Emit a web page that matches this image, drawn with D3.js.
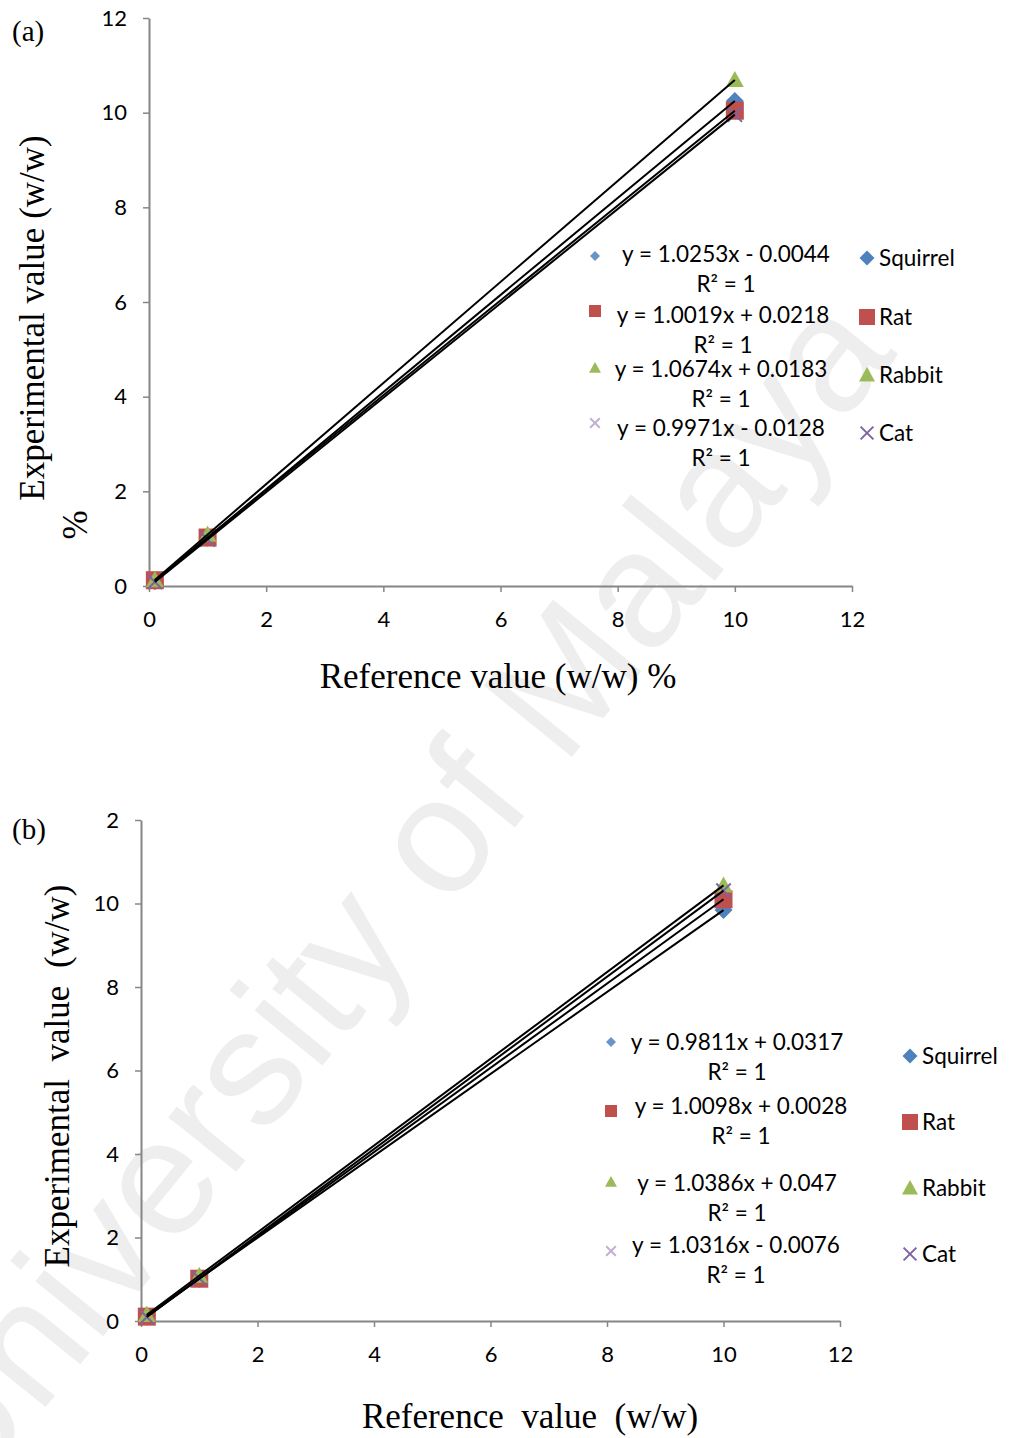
<!DOCTYPE html>
<html>
<head>
<meta charset="utf-8">
<script src="https://cdn.jsdelivr.net/npm/d3@7"></script>
<style>
  html, body { margin: 0; padding: 0; background: #fff; }
  svg { display: block; }
</style>
</head>
<body>
<script>
// ---- data ----
const species = ["Squirrel", "Rat", "Rabbit", "Cat"];
const colors = ["#4F81BD", "#C0504D", "#9BBB59", "#8064A2"];
const refX = [0.1, 1, 10];

// panel (a): experimental values per species at each reference value
const expA_squirrel = [0.098, 1.021, 10.249];
const expA_rat      = [0.122, 1.024, 10.041];
const expA_rabbit   = [0.125, 1.086, 10.692];
const expA_cat      = [0.087, 0.984, 9.958];
const slopeA     = [1.0253, 1.0019, 1.0674, 0.9971];
const interceptA = [-0.0044, 0.0218, 0.0183, -0.0128];
const eqA = ["y = 1.0253x - 0.0044", "y = 1.0019x + 0.0218", "y = 1.0674x + 0.0183", "y = 0.9971x - 0.0128"];

// panel (b)
const expB_squirrel = [0.130, 1.013, 9.843];
const expB_rat      = [0.104, 1.013, 10.101];
const expB_rabbit   = [0.151, 1.086, 10.433];
const expB_cat      = [0.096, 1.024, 10.308];
const slopeB     = [0.9811, 1.0098, 1.0386, 1.0316];
const interceptB = [0.0317, 0.0028, 0.047, -0.0076];
const eqB = ["y = 0.9811x + 0.0317", "y = 1.0098x + 0.0028", "y = 1.0386x + 0.047", "y = 1.0316x - 0.0076"];

const r2Label = "R² = 1";
const tickVals = [0, 2, 4, 6, 8, 10, 12];
const xTickLabels = ["0", "2", "4", "6", "8", "10", "12"];
const yTickLabelsA = ["0", "2", "4", "6", "8", "10", "12"];
const yTickLabelsB = ["0", "2", "4", "6", "8", "10", "2"];

const W = 1011, H = 1438;
const svg = d3.select("body").append("svg").attr("width", W).attr("height", H);
svg.append("rect").attr("width", W).attr("height", H).attr("fill", "#fff");

const sansFont = "Lato, 'Open Sans', sans-serif";
const serifFont = "'Liberation Serif', 'Times New Roman', serif";
const axisGray = "#868686";
const textSize = 22.5;
const titleSize = 35;

// marker drawing helper
function drawMarker(g, kind, cx, cy, size, color, opacity) {
  const s = size / 2;
  if (kind === 0) {
    g.append("path").attr("d", `M${cx},${cy - s}L${cx + s},${cy}L${cx},${cy + s}L${cx - s},${cy}Z`)
      .attr("fill", color).attr("opacity", opacity);
  } else if (kind === 1) {
    g.append("rect").attr("x", cx - s).attr("y", cy - s).attr("width", size).attr("height", size)
      .attr("fill", color).attr("opacity", opacity);
  } else if (kind === 2) {
    g.append("path").attr("d", `M${cx},${cy - s}L${cx + s},${cy + s * 0.8}L${cx - s},${cy + s * 0.8}Z`)
      .attr("fill", color).attr("opacity", opacity);
  } else {
    const t = s * 0.8;
    g.append("path").attr("d", `M${cx - t},${cy - t}L${cx + t},${cy + t}M${cx + t},${cy - t}L${cx - t},${cy + t}`)
      .attr("stroke", color).attr("stroke-width", 2).attr("fill", "none").attr("opacity", opacity);
  }
}

// watermark behind the charts
svg.append("text")
  .attr("transform", "translate(397,904) rotate(-51)")
  .attr("text-anchor", "middle")
  .attr("dominant-baseline", "middle")
  .attr("font-family", "'Liberation Sans', Arial, sans-serif")
  .attr("font-size", 165)
  .attr("fill", "#eeeeee")
  .text("University of Malaya");

function drawPanel(cfg) {
  const g = svg.append("g");
  const x = d3.scaleLinear().domain([0, 12]).range([cfg.x0, cfg.x1]);
  const y = d3.scaleLinear().domain([0, 12]).range([cfg.y0, cfg.y1]);

  const yAxis = d3.axisLeft(y).tickValues(tickVals)
    .tickFormat((d, i) => cfg.yLabels[i]).tickSize(6).tickSizeOuter(0).tickPadding(16);
  const xAxis = d3.axisBottom(x).tickValues(tickVals)
    .tickFormat((d, i) => xTickLabels[i]).tickSize(6).tickSizeOuter(0).tickPadding(19);

  const gy = g.append("g").attr("transform", `translate(${cfg.x0},0)`).call(yAxis);
  const gx = g.append("g").attr("transform", `translate(0,${cfg.y0})`).call(xAxis);
  [gx, gy].forEach(a => {
    a.selectAll("path.domain").attr("stroke", axisGray).attr("stroke-width", 2);
    a.selectAll(".tick line").attr("stroke", axisGray).attr("stroke-width", 1.5);
    a.selectAll(".tick text").attr("font-family", sansFont).attr("font-size", 22).attr("fill", "#000");
  });

  // data markers
  const mg = g.append("g");
  cfg.series.forEach((vals, si) => {
    vals.forEach((v, i) => drawMarker(mg, si, x(refX[i]), y(v), 18, colors[si], 1));
  });

  // linear trendlines over the data range
  const lg = g.append("g");
  const line = d3.line().x(d => x(d[0])).y(d => y(d[1]));
  cfg.slopes.forEach((m, si) => {
    const b = cfg.intercepts[si];
    const pts = [refX[0], refX[refX.length - 1]].map(v => [v, m * v + b]);
    lg.append("path").attr("d", line(pts)).attr("stroke", "#000").attr("stroke-width", 2).attr("fill", "none");
  });

  // trendline equations
  const eg = g.append("g");
  cfg.eqs.forEach((eq, i) => {
    const p = cfg.eqPos[i];
    drawMarker(eg, i, cfg.eqMarkX, p.my, i === 0 ? 10 : 12, colors[i], i === 3 ? 0.5 : (i === 0 ? 0.85 : 1));
    eg.append("text").attr("x", p.cx).attr("y", p.ey).attr("text-anchor", "middle")
      .attr("font-family", sansFont).attr("font-size", textSize).text(eq);
    eg.append("text").attr("x", p.cx).attr("y", p.ey + 30).attr("text-anchor", "middle")
      .attr("font-family", sansFont).attr("font-size", textSize).text(r2Label);
  });

  // series legend
  const leg = g.append("g");
  species.forEach((s, i) => {
    const yy = cfg.legY[i];
    drawMarker(leg, i, cfg.legX, yy, i === 0 ? 15 : 16, colors[i], 1);
    leg.append("text").attr("x", cfg.legX + 12).attr("y", yy + 8)
      .attr("font-family", sansFont).attr("font-size", textSize).text(s);
  });

  // axis titles and panel tag
  g.append("text").attr("x", cfg.xTitle[0]).attr("y", cfg.xTitle[1]).attr("text-anchor", "middle")
    .attr("font-family", serifFont).attr("font-size", titleSize).attr("xml:space", "preserve").text(cfg.xTitleText);
  g.append("text").attr("transform", `translate(${cfg.yTitle[0]},${cfg.yTitle[1]}) rotate(-90)`)
    .attr("text-anchor", "middle").attr("font-family", serifFont).attr("font-size", titleSize)
    .attr("xml:space", "preserve").text(cfg.yTitleText);
  if (cfg.yTitle2) {
    g.append("text").attr("transform", `translate(${cfg.yTitle2[0]},${cfg.yTitle2[1]}) rotate(-90)`)
      .attr("text-anchor", "middle").attr("font-family", serifFont).attr("font-size", titleSize).text("%");
  }
  g.append("text").attr("x", cfg.tag[0]).attr("y", cfg.tag[1])
    .attr("font-family", serifFont).attr("font-size", 29).text(cfg.tagText);
}

drawPanel({
  x0: 149, x1: 852, y0: 586, y1: 18,
  yLabels: yTickLabelsA,
  series: [expA_squirrel, expA_rat, expA_rabbit, expA_cat],
  slopes: slopeA, intercepts: interceptA, eqs: eqA,
  eqMarkX: 595,
  eqPos: [{ my: 256, cx: 726, ey: 262 }, { my: 311, cx: 723, ey: 323 }, { my: 368, cx: 721, ey: 377 },
          { my: 423, cx: 721, ey: 436 }],
  legX: 867, legY: [258, 317, 375, 433],
  xTitle: [498, 688], xTitleText: "Reference value (w/w) %",
  yTitle: [44, 318], yTitleText: "Experimental value (w/w)",
  yTitle2: [87, 525],
  tag: [12, 41], tagText: "(a)"
});

drawPanel({
  x0: 141, x1: 840, y0: 1321, y1: 820,
  yLabels: yTickLabelsB,
  series: [expB_squirrel, expB_rat, expB_rabbit, expB_cat],
  slopes: slopeB, intercepts: interceptB, eqs: eqB,
  eqMarkX: 611,
  eqPos: [{ my: 1042, cx: 737, ey: 1050 }, { my: 1111, cx: 741, ey: 1114 }, { my: 1182, cx: 737, ey: 1191 },
          { my: 1251, cx: 736, ey: 1253 }],
  legX: 910, legY: [1056, 1122, 1188, 1254],
  xTitle: [530, 1428], xTitleText: "Reference  value  (w/w)",
  yTitle: [69, 1076], yTitleText: "Experimental  value  (w/w)",
  yTitle2: null,
  tag: [12, 839], tagText: "(b)"
});
</script>
</body>
</html>
